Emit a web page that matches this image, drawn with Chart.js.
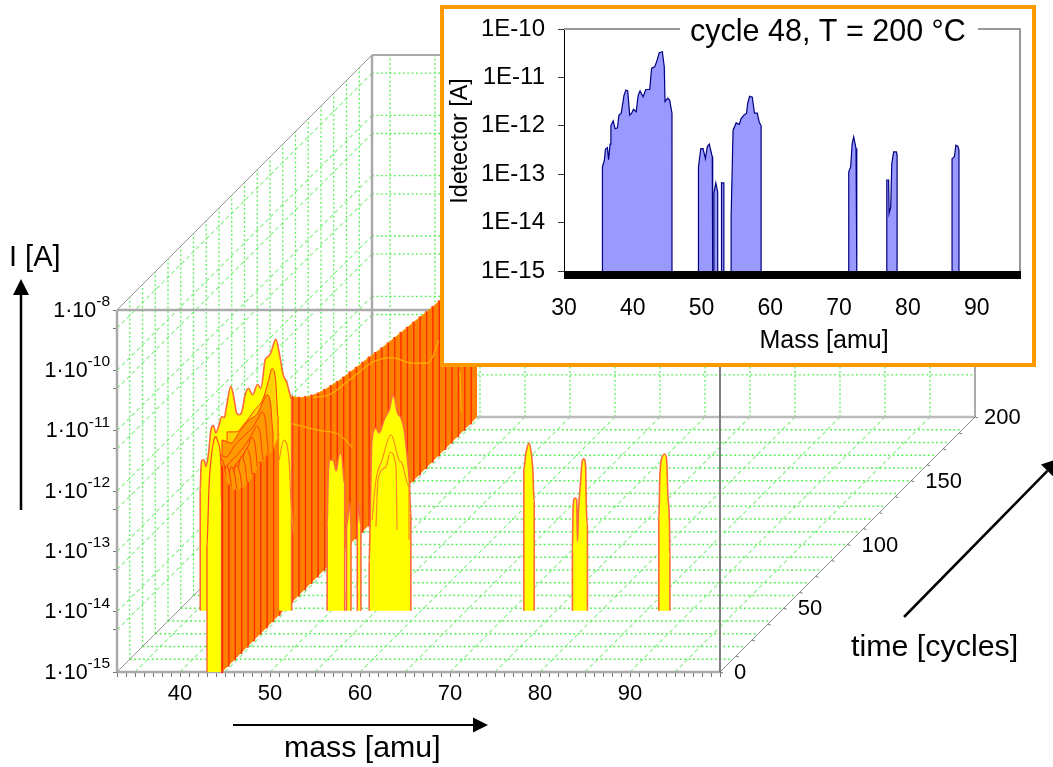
<!DOCTYPE html>
<html><head><meta charset="utf-8">
<style>
html,body{margin:0;padding:0;background:#fff;width:1053px;height:767px;overflow:hidden}
#main{position:absolute;left:0;top:0}
#box{position:absolute;left:440px;top:5px;width:596px;height:362px;box-sizing:border-box;border:4px solid #ff9900;background:#fff}
#inset{position:absolute;left:0;top:0}
</style>
<script src="https://cdn.jsdelivr.net/npm/chart.js@4"></script>
</head><body>
<canvas id="main" width="1053" height="767"></canvas>
<div id="box"><canvas id="inset" width="588" height="354"></canvas></div>
<script>
// ---------- data ----------
// spectrum of cycle 48 as shown in the inset: one list per peak group
const peakMass=[
[35.59,35.87,36.03,36.31,36.48,36.7,36.82,37.15,37.43,37.77,37.99,38.32,38.72,39,39.27,39.55,39.83,40.11,40.5,40.78,41.06,41.5,41.9,42.46,42.74,43.18,43.46,43.85,44.3,44.58,44.69,45.08,45.36,45.7],
[49.55,49.89,50.22,50.56,50.84,51.12,51.56,51.62],
[51.79,52.07,52.35],
[52.9,53.24],
[54.3,54.58,55.03,55.47,55.75,56.15,56.54,56.7,56.98,57.37,57.7,58.1,58.38,58.66],
[71.4,71.68,71.9,72.12,72.46,72.57],
[76.93,77.2,77.27,77.5,77.66,77.93,78.32,78.43],
[86.42,86.76,86.98,87.26,87.43]];
const peakLog=[
[-12.85,-12.71,-12.48,-12.45,-12.7,-12.38,-11.99,-11.9,-12.06,-12.04,-11.78,-11.74,-11.37,-11.26,-11.28,-11.78,-11.74,-11.66,-11.71,-11.37,-11.28,-11.4,-11.25,-11.25,-10.81,-10.78,-10.68,-10.49,-10.47,-10.78,-11.5,-11.43,-11.47,-11.74],
[-12.85,-12.47,-12.47,-12.68,-12.43,-12.38,-12.64,-12.7],
[-13.4,-13.18,-13.37],
[-13.18,-13.18],
[-13.88,-12.09,-11.94,-11.97,-11.85,-11.78,-11.74,-11.54,-11.39,-11.41,-11.74,-11.74,-11.92,-12],
[-12.95,-12.85,-12.37,-12.23,-12.47,-12.6],
[-13.12,-13.12,-13.81,-13.68,-12.78,-12.54,-12.54,-12.6],
[-12.68,-12.64,-12.4,-12.42,-12.5]];
// the same cycle 48 as it is drawn in the waterfall (smoother outline)
const sliceCycle48=48;
const wallMass=[
[35.45,35.52,35.7,35.89,36.07,36.37,36.63,36.89,37.19,37.48,37.85,38.11,38.37,38.85,39.22,39.48,39.78,40.07,40.44,40.81,41.26,41.81,42.19,42.67,43.04,43.3,43.85,44.22,44.67,45.03,45.33,45.6],
[49.55,49.65,49.89,50.22,50.56,50.84,51.12,51.5],
[51.7,52.07,52.2],
[52.9,53.05,53.3],
[54.22,54.3,54.52,54.96,55.33,55.89,56.44,56.89,57.37,57.74,58.11,58.48,58.67,58.85],
[71.4,71.64,72,72.22,72.4,72.56],
[76.8,76.88,77.08,77.28,77.36,77.48,77.67,77.88,78.07,78.27,78.34,78.47],
[86.4,86.52,86.8,87.04,87.28,87.4,87.6,87.63]];
const wallLog=[
[-13,-12.66,-12.5,-12.5,-12.61,-12.39,-12,-11.93,-12.05,-11.95,-11.78,-11.8,-11.61,-11.28,-11.5,-11.72,-11.75,-11.7,-11.42,-11.31,-11.42,-11.25,-11.31,-10.84,-10.78,-10.72,-10.5,-10.72,-11.09,-11.2,-11.36,-11.5],
[-13.6,-12.85,-12.5,-12.5,-12.68,-12.43,-12.38,-12.9],
[-13.6,-13.2,-13.6],
[-13.6,-13.2,-13.6],
[-14.2,-13.7,-12.17,-11.97,-12.05,-11.83,-11.67,-11.42,-11.72,-11.8,-12,-12.5,-12.83,-13.4],
[-12.66,-12.38,-12.22,-12.38,-12.66,-13.21],
[-14,-13.27,-13.13,-13.16,-13.85,-13.33,-12.94,-12.53,-12.48,-12.61,-13.21,-13.6],
[-13.5,-12.77,-12.44,-12.4,-12.5,-13.05,-13.66,-14.1]];
// side of the mass 44.7 ridge along all cycles
const ridgeMass=44.67;
const ridgeCycles=[0,5,10,15,20,25,30,35,40,45,50,55,60,65,70,75,80,85,90,95,100,105,110,115,120,125,130,135,140,145,150,155,160,165,170,175,180,185,190,195,200];
const ridgeLog=[-11.6,-12,-12.2,-12.28,-12.29,-12.25,-12.17,-12.17,-12.17,-12,-11.45,-11.6,-11.72,-11.82,-11.9,-11.97,-12.02,-12.06,-12.1,-12.13,-12.15,-12.18,-12.2,-12.22,-12.25,-12.28,-12.3,-12.32,-12.34,-12.36,-12.38,-12.4,-12.42,-12.44,-12.45,-12.46,-12.48,-12.49,-12.5,-12.51,-12.52];
// slices in front of cycle 48, around the mass 44 peak
const sliceMass=[39,40,41,42,43,43.6,44,44.4,44.67];
const sliceCycles=[44,40,36,32,28,24,20,16,12,8,4];
const sliceLog=[
[-11.95,-11.95,-11.8,-11.6,-11.4,-11.1,-10.9,-11.1,-11.7],
[-12,-12.05,-11.85,-11.67,-11.55,-11.35,-11.25,-11.4,-11.85],
[-12.15,-12.2,-12,-11.85,-11.7,-11.55,-11.45,-11.6,-12],
[null,-12.4,-12.2,-12.05,-11.85,-11.7,-11.6,-11.75,-12.1],
[null,-12.6,-12.4,-12.2,-12,-11.85,-11.7,-11.85,-12.2],
[null,null,-12.55,-12.35,-12.15,-11.95,-11.8,-11.95,-12.25],
[null,null,-12.7,-12.45,-12.25,-12.05,-11.85,-12,-12.29],
[null,null,null,-12.6,-12.35,-12.1,-11.9,-12.05,-12.28],
[null,null,null,-12.7,-12.4,-12.1,-11.85,-12,-12.22],
[null,null,null,null,-12.45,-12.1,-11.75,-11.9,-12.15],
[null,null,null,null,-12.4,-11.95,-11.55,-11.7,-12]];
// first slice, cycle 0
const frontMass=[43,43.11,43.22,43.44,43.78,44,44.22,44.56,44.61];
const frontLog=[-12.9,-12.48,-11.93,-11.49,-11.15,-11.1,-11.19,-11.6,-12.27];
// outlines of earlier cycles seen over the yellow slice
const outlineCycle=46;
const outlineMass=[[54.82,55.26,55.93,56.93,57.82,58.15,58.93,58.93],[55.26,55.48,56.37,56.82,57.48,57.6],[44.5,45,45.6,45.8,46.1]];
const outlineLog=[[-13.45,-12.79,-12.46,-12.04,-12.46,-12.51,-12.9,-13.78],[-13.57,-12.79,-12.57,-12.33,-12.57,-13.62],[-12.46,-12.13,-12.46,-13.12,-13.67]];
// faint lines running along the ridge
const trendCycles=[[71,84,102,118,133,149,162,170],[52,76,92,102],[186.7,187.5]];
const trendLog=[[-11.95,-12.18,-12.28,-12.36,-12.6,-13.03,-13.3,-13.1],[-11.97,-12.6,-13.01,-13.43],[-13.97,-14.65]];
// axes
const massLabels=[40,50,60,70,80,90];
const decadeExp=[-15,-14,-13,-12,-11,-10,-9];
const decadeBase='1·10';
const decadeSup=['-15','-14','-13','-12','-11','-10','-8'];
const cycleLabels=[0,50,100,150,200];
const insetMassLabels=[30,40,50,60,70,80,90];
const insetExp=[-15,-14,-13,-12,-11,-10];
const insetLabels=['1E-15','1E-14','1E-13','1E-12','1E-11','1E-10'];
const massMin=33,massMax=100,cycleMax=200,logMin=-15,logTop=-9;

// ---------- oblique projection expressed in axis units ----------
const PX_AMU=9,PX_DEC=60.33,PX_CYC=1.275;
const KX=PX_CYC/PX_AMU,KY=PX_CYC/PX_DEC;
const P=(m,c,e)=>({x:m+KX*c,y:Math.pow(10,e+KY*c)});
const FONT='"Liberation Sans", Arial, sans-serif';
const ds=[];
function add(points,o={}){
  const d=Object.assign({data:points,borderColor:o.color||'#888',borderWidth:o.width===undefined?1:o.width,borderDash:o.dash||[],
    pointRadius:0,pointHoverRadius:0,tension:0,cubicInterpolationMode:o.smooth?'monotone':'default',fill:o.fill===undefined?false:o.fill,backgroundColor:o.bg||'transparent',
    borderCapStyle:'butt',borderJoinStyle:'round',spanGaps:false,clip:false});
  ds.push(d);return ds.length-1;
}
const gridDot={color:'#5cf05c',width:1.3,dash:[2,2.4]};
const gridDash={color:'#85ee85',width:1.1,dash:[4,3]};
// grid
const logGrid=[];decadeExp.slice(0,6).forEach(e=>{if(e>-15)logGrid.push(e);logGrid.push(e+Math.log10(5));});
for(let m=35;m<massMax;m+=5){
  add([P(m,cycleMax,logMin),P(m,cycleMax,logTop)],gridDot);
  add([P(m,0,logMin),P(m,cycleMax,logMin)],gridDash);
}
for(const e of logGrid){
  add([P(massMin,cycleMax,e),P(massMax,cycleMax,e)],gridDot);
  add([P(massMin,0,e),P(massMin,cycleMax,e)],gridDash);
}
for(let c=10;c<cycleMax;c+=10){
  add([P(massMin,c,logMin),P(massMin,c,logTop)],gridDot);
  add([P(massMin,c,logMin),P(massMax,c,logMin)],gridDot);
}
// frame
add([P(massMin,cycleMax,logTop),P(massMax,cycleMax,logTop)],{color:'#aaa',width:2});
add([P(massMin,cycleMax,logMin),P(massMin,cycleMax,logTop)],{color:'#aaa',width:2.5});
add([P(massMin,cycleMax,logMin),P(massMax,cycleMax,logMin)],{color:'#bbb',width:2.5});
add([P(massMax,cycleMax,logMin),P(massMax,cycleMax,logTop)],{color:'#aaa',width:2});
add([P(massMin,0,logTop),P(massMin,cycleMax,logTop)],{color:'#999',width:1});
add([P(massMin,0,logMin),P(massMin,cycleMax,logMin)],{color:'#999',width:1});
add([P(massMax,0,logMin),P(massMax,cycleMax,logMin)],{color:'#888',width:1});
add([P(massMin,0,logTop),P(massMax,0,logTop)],{color:'#aaa',width:2.5});
add([P(massMin,0,logMin),P(massMin,0,logTop)],{color:'#aaa',width:2.5});
add([P(massMin,0,logMin),P(massMax,0,logMin)],{color:'#aaa',width:2.5});
add([P(massMax,0,logMin),P(massMax,0,logTop)],{color:'#808080',width:2});
// base line of the ridge (fill target)
const baseIdx=add(ridgeCycles.map(c=>P(ridgeMass,c,logMin)),{width:0});
function stripe(i){
  const c1=ridgeCycles[i],c2=ridgeCycles[i+1];
  add([P(ridgeMass,c1,ridgeLog[i]),P(ridgeMass,c2,ridgeLog[i+1])],{color:'#ff9a00',width:1,fill:baseIdx,bg:'#ff7f00'});
  add([P(ridgeMass,c1,ridgeLog[i]),P(ridgeMass,c1,logMin)],{color:'#ff2a00',width:2.4});
}
function slicePoly(cyc,ms,es,o){
  const pts=[P(ms[0],cyc,logMin)];
  ms.forEach((m,i)=>pts.push(P(m,cyc,es[i])));
  pts.push(P(ms[ms.length-1],cyc,logMin));
  add(pts,Object.assign({fill:{target:{value:Math.pow(10,logMin+KY*cyc)}}},o));
}
// back to front
for(let i=ridgeCycles.length-2;i>=0;i--){ if(ridgeCycles[i]>=45) stripe(i); }
trendCycles.forEach((cs,k)=>add(cs.map((c,i)=>P(ridgeMass,c,trendLog[k][i])),{color:'#ffb000',width:1.2,smooth:true}));
wallMass.forEach((ms,k)=>slicePoly(sliceCycle48,ms,wallLog[k],{color:'#ff6a3c',width:1.6,bg:'#ffff00',smooth:true}));
outlineMass.forEach((ms,k)=>add(ms.map((m,i)=>P(m,outlineCycle,outlineLog[k][i])),{color:'#ff8c1a',width:1.2,smooth:true}));
// interleave the front slices and the ridge side
const frontOrder=[];
sliceCycles.forEach((c,k)=>frontOrder.push({c:c,kind:'s',k:k}));
ridgeCycles.forEach((c,i)=>{if(c<45)frontOrder.push({c:c+0.5,kind:'r',k:i});});
frontOrder.sort((a,b)=>b.c-a.c);
frontOrder.forEach(it=>{
  if(it.kind==='r'){stripe(it.k);return;}
  const row=sliceLog[it.k],ms=[],es=[];
  row.forEach((e,i)=>{if(e!==null){ms.push(sliceMass[i]);es.push(e);}});
  slicePoly(sliceCycles[it.k],ms,es,{color:'#ff3c00',width:1,bg:it.k<1?'#ffd400':'#ff9a00',smooth:true});
});
slicePoly(0,frontMass,frontLog,{color:'#ff4a1a',width:1.2,bg:'#ffff00',smooth:true});
ds.forEach((d,i)=>{d.order=-i;});

function text(ctx,s,x,y,size,align,base){
  ctx.font=size+'px '+FONT;ctx.fillStyle='#000';ctx.textAlign=align||'left';ctx.textBaseline=base||'middle';ctx.fillText(s,x,y);
}
function arrow(ctx,x1,y1,x2,y2,w,head){
  const a=Math.atan2(y2-y1,x2-x1),bx=x2-Math.cos(a)*head,by=y2-Math.sin(a)*head;
  ctx.strokeStyle='#000';ctx.fillStyle='#000';ctx.lineWidth=w;
  ctx.beginPath();ctx.moveTo(x1,y1);ctx.lineTo(bx,by);ctx.stroke();
  ctx.beginPath();ctx.moveTo(x2,y2);
  ctx.lineTo(bx+Math.sin(a)*head*0.5,by-Math.cos(a)*head*0.5);
  ctx.lineTo(bx-Math.sin(a)*head*0.5,by+Math.cos(a)*head*0.5);ctx.closePath();ctx.fill();
}
const mainDecor={id:'mainDecor',afterDraw(ch){
  const ctx=ch.ctx,X=ch.scales.x,Y=ch.scales.y;ctx.save();
  const pix=(c)=>{const p=P(massMax,c,logMin);return [X.getPixelForValue(p.x),Y.getPixelForValue(p.y)];};
  ctx.strokeStyle='#777';ctx.lineWidth=1;
  for(let c=0;c<=cycleMax;c+=12.5){const [a,b]=pix(c);ctx.beginPath();ctx.moveTo(a,b);ctx.lineTo(a+3,b+1);ctx.stroke();}
  cycleLabels.forEach(c=>{const [a,b]=pix(c);text(ctx,String(c),a+(c===200?9:14),b+1,22);});
  // y tick labels with raised exponents, placed from the log scale
  decadeExp.forEach((e,i)=>{
    const py=Y.getPixelForValue(Math.pow(10,e)),sup=decadeSup[i];
    ctx.font='15.5px '+FONT;const w=ctx.measureText(sup).width;
    text(ctx,sup,110,py-4,15.5,'right','alphabetic');
    text(ctx,decadeBase,110-w,py+6.5,21.5,'right','alphabetic');
  });
  text(ctx,'I [A]',9,258,29);
  text(ctx,'mass [amu]',284,749,30.3);
  text(ctx,'time [cycles]',851,648,30.4);
  arrow(ctx,21,510,21,279,2.5,16);
  arrow(ctx,233,725,488,725,2,15);
  arrow(ctx,904,617,1060,458,2.5,18);
  ctx.restore();
}};
new Chart(document.getElementById('main'),{type:'line',data:{datasets:ds},plugins:[mainDecor],options:{
  responsive:false,animation:false,events:[],layout:{padding:0},
  plugins:{legend:{display:false},tooltip:{enabled:false},title:{display:false}},
  scales:{
    x:{type:'linear',min:massMin,max:massMin+936/PX_AMU,border:{display:false},grid:{drawOnChartArea:false,tickLength:5,tickColor:'#777',tickWidth:1},
      afterBuildTicks(a){const t=[];for(let m=massMin;m<=massMax;m++)t.push({value:m});a.ticks=t;},
      ticks:{autoSkip:false,maxRotation:0,minRotation:0,padding:4,color:'#000',font:{family:FONT,size:22},
        callback:v=>massLabels.includes(Math.round(v))?String(Math.round(v)):''},
      afterFit(a){a.height=95;a.paddingLeft=0;a.paddingRight=0;a.paddingTop=0;a.paddingBottom=0;}},
    y:{type:'logarithmic',min:Math.pow(10,logMin),max:Math.pow(10,logMin+672/PX_DEC),border:{display:false},grid:{drawOnChartArea:false,tickLength:4,tickColor:'#777',tickWidth:1},
      afterBuildTicks(a){const t=decadeExp.map(e=>({value:Math.pow(10,e)}));decadeExp.slice(0,6).forEach(e=>t.push({value:5*Math.pow(10,e)}));t.sort((p,q)=>p.value-q.value);a.ticks=t;},
      ticks:{display:false},
      afterFit(a){a.width=117;a.paddingLeft=0;a.paddingRight=0;a.paddingTop=0;a.paddingBottom=0;}}
  }}});

// ---------- inset ----------
const insetMax=96.3;
const insetDs=[{data:[{x:30,y:1e-10},{x:insetMax,y:1e-10},{x:insetMax,y:1e-15}],borderColor:'#999',borderWidth:2,pointRadius:0,fill:false,clip:false}];
peakMass.forEach((ms,k)=>{
  const pts=[{x:ms[0],y:1e-15}];
  ms.forEach((m,i)=>pts.push({x:m,y:Math.pow(10,peakLog[k][i])}));
  pts.push({x:ms[ms.length-1],y:1e-15});
  insetDs.push({data:pts,borderColor:'#000080',borderWidth:1.2,backgroundColor:'#9999ff',fill:'start',pointRadius:0,tension:0,clip:false});
});
const OX=444,OY=9;
const insetDecor={id:'insetDecor',afterDraw(ch){
  const ctx=ch.ctx;ctx.save();
  ctx.fillStyle='#fff';ctx.fillRect(680-OX,18-OY,298,28);
  text(ctx,'cycle 48, T = 200 °C',690-OX,33-OY,30.5);
  text(ctx,'Mass [amu]',824-OX,341-OY,25,'center');
  ctx.translate(461-OX,141-OY);ctx.rotate(-Math.PI/2);text(ctx,'Idetector [A]',0,0,23.3,'center');
  ctx.restore();
}};
new Chart(document.getElementById('inset'),{type:'line',data:{datasets:insetDs},plugins:[insetDecor],options:{
  responsive:false,animation:false,events:[],layout:{padding:{top:20,right:12,left:0,bottom:0}},
  plugins:{legend:{display:false},tooltip:{enabled:false},title:{display:false}},
  scales:{
    x:{type:'linear',min:30,max:insetMax,border:{color:'#000',width:1},grid:{drawOnChartArea:false,tickLength:8,tickColor:'#000',tickWidth:1},
      afterBuildTicks(a){const t=[];for(let i=300;i<=insetMax*10;i++)t.push({value:i/10});a.ticks=t;},
      ticks:{autoSkip:false,maxRotation:0,minRotation:0,padding:16,color:'#000',font:{family:FONT,size:23},
        callback:v=>{const r=Math.round(v*10)/10;return insetMassLabels.includes(r)?String(r):'';}},
      afterFit(a){a.height=92;a.paddingLeft=0;a.paddingRight=0;a.paddingTop=0;a.paddingBottom=0;}},
    y:{type:'logarithmic',min:1e-15,max:1e-10,border:{color:'#000',width:1},grid:{drawOnChartArea:false,tickLength:6,tickColor:'#333',tickWidth:1},
      afterBuildTicks(a){a.ticks=insetExp.map(e=>({value:Math.pow(10,e)}));},
      ticks:{autoSkip:false,padding:13,color:'#000',font:{family:FONT,size:24},
        callback(v){return insetLabels[insetExp.indexOf(Math.round(Math.log10(v)))];}},
      afterFit(a){a.width=120;a.paddingLeft=0;a.paddingRight=0;a.paddingTop=0;a.paddingBottom=0;}}
  }}});
</script>
</body></html>
